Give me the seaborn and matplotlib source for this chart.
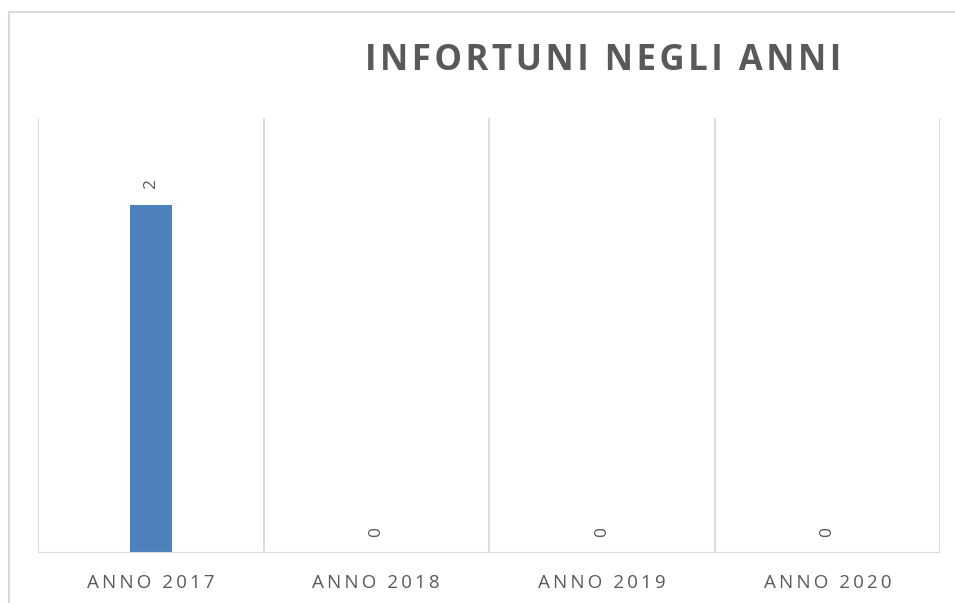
import matplotlib
matplotlib.use("Agg")
import matplotlib.pyplot as plt
import seaborn as sns
import pandas as pd
from matplotlib.patches import Rectangle

categories = ["ANNO 2017", "ANNO 2018", "ANNO 2019", "ANNO 2020"]
values = [2, 0, 0, 0]
title = "INFORTUNI NEGLI ANNI"

sns.set_theme(style="white")
plt.rcParams['font.family'] = ['Open Sans', 'DejaVu Sans']

def spaced(s, sep="\u200a"):
    return sep.join(s)

df = pd.DataFrame({"cat": categories, "val": values})

fig = plt.figure(figsize=(9.55, 6.03), dpi=100)
ax = fig.add_axes([38/955, 1-553/603, (940-38)/955, (553-118)/603])

sns.barplot(data=df, x="cat", y="val", ax=ax, color="#4F81BD", width=0.186,
            saturation=1, edgecolor="none")

ax.set_xlim(-0.5, 3.5)
ax.set_ylim(0, 2.5)
grey = "#D9D9D9"
for b in [-0.5, 0.5, 1.5, 2.5, 3.5]:
    ax.axvline(b, color=grey, lw=1.3, zorder=0)
for s in ax.spines.values():
    s.set_visible(False)
ax.axhline(0, color=grey, lw=1.5, zorder=3)
ax.set_yticks([])
ax.set_xlabel("")
ax.set_ylabel("")
ax.set_xticks(range(len(categories)))
ax.set_xticklabels([spaced(c, "\u2009") for c in categories], fontsize=13.5, color="#595959")
ax.tick_params(axis="x", length=0, pad=15)

for i, v in enumerate(values):
    ax.annotate(str(v), xy=(i, v), xytext=(0, 15), textcoords="offset points",
                rotation=90, ha="center", va="center", fontsize=12.5, color="#595959")

fig.text(603/955, 1-61/603, spaced(title, "\u200a"), ha="center", va="center",
         fontsize=25, fontweight="bold", color="#595959")

fig.patches.append(Rectangle((9/955, -0.1), 1.2, 1-12/603+0.1, transform=fig.transFigure,
                             fill=False, edgecolor=grey, lw=1.5))

fig.savefig("out.png", dpi=100)
